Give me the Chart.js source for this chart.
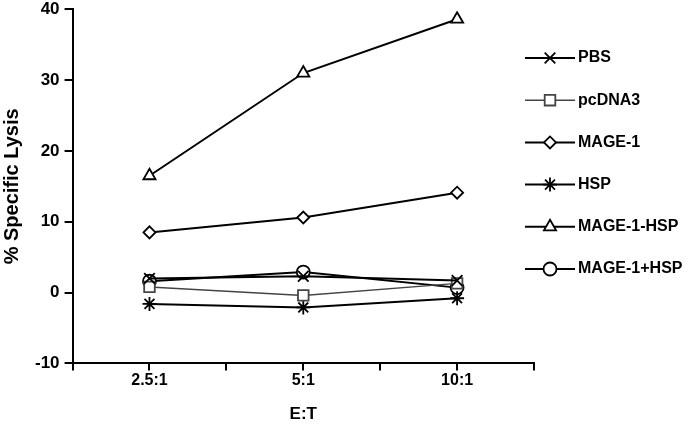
<!DOCTYPE html>
<html>
<head>
<meta charset="utf-8">
<script src="https://cdn.jsdelivr.net/npm/chart.js@4.4.0/dist/chart.umd.min.js"></script>
<style>
  html, body { margin: 0; padding: 0; background: #fff; }
  #wrap { width: 685px; height: 429px; }
</style>
</head>
<body>
<div id="wrap"><canvas id="lysisChart"></canvas></div>
<script>
// E:T ratios
const categories = ['2.5:1', '5:1', '10:1'];

// % specific lysis per group
const pbs        = [2.0, 2.3, 1.7];
const pcdna3     = [0.8, -0.4, 1.3];
const mage1      = [8.5, 10.6, 14.1];
const hsp        = [-1.6, -2.1, -0.8];
const mage1Hsp   = [16.5, 31.0, 38.6];
const mage1PlusHsp = [1.6, 2.9, 0.7];

const yTicks = [-10, 0, 10, 20, 30, 40];

const series = [
  { label: 'PBS',         data: pbs,          style: 'crossRot', r: 7.5, color: '#000' },
  { label: 'pcDNA3',      data: pcdna3,       style: 'rect',     r: 7.5, color: '#444' },
  { label: 'MAGE-1',      data: mage1,        style: 'rectRot',  r: 6,   color: '#000' },
  { label: 'HSP',         data: hsp,          style: 'star',     r: 7,   color: '#000' },
  { label: 'MAGE-1-HSP',  data: mage1Hsp,     style: 'triangle', r: 7,   color: '#000' },
  { label: 'MAGE-1+HSP',  data: mage1PlusHsp, style: 'circle',   r: 6.5, color: '#000' }
];

const font = "'Liberation Sans', Arial, sans-serif";

// legend drawn by hand: line + marker + label
const sideLegend = {
  id: 'sideLegend',
  afterDraw(chart) {
    const ctx = chart.ctx;
    const x0 = 525, x1 = 575, top = 58, gap = 42.2;
    ctx.save();
    chart.data.datasets.forEach((ds, i) => {
      const y = top + i * gap;
      ctx.strokeStyle = ds.borderColor;
      ctx.lineWidth = ds.borderWidth;
      ctx.beginPath();
      ctx.moveTo(x0, y);
      ctx.lineTo(x1, y);
      ctx.stroke();
      ctx.fillStyle = '#fff';
      ctx.strokeStyle = ds.pointBorderColor;
      ctx.lineWidth = ds.pointBorderWidth;
      Chart.helpers.drawPoint(ctx, {
        pointStyle: ds.pointStyle, radius: ds.pointRadius, rotation: 0, borderWidth: ds.pointBorderWidth
      }, (x0 + x1) / 2, y);
      ctx.fillStyle = '#000';
      ctx.font = 'bold 16px ' + font;
      ctx.textBaseline = 'middle';
      ctx.textAlign = 'left';
      ctx.fillText(ds.label, x1 + 3, y);
    });
    ctx.restore();
  }
};

new Chart(document.getElementById('lysisChart'), {
  type: 'line',
  data: {
    datasets: series.map(s => ({
      label: s.label,
      data: s.data.map((v, i) => ({ x: i, y: v })),
      borderColor: s.color,
      borderWidth: s.label === 'pcDNA3' ? 1.5 : 2,
      pointStyle: s.style,
      pointRadius: s.r,
      pointBackgroundColor: '#fff',
      pointBorderColor: s.color,
      pointBorderWidth: 1.8,
      tension: 0
    }))
  },
  options: {
    responsive: true,
    maintainAspectRatio: false,
    animation: false,
    layout: { padding: { top: 4, right: 151, bottom: 4, left: 0 } },
    plugins: { legend: { display: false }, tooltip: { enabled: false } },
    scales: {
      x: {
        type: 'linear',
        min: -0.5,
        max: 2.5,
        afterBuildTicks: axis => { axis.ticks = [-0.5, 0, 0.5, 1, 1.5, 2, 2.5].map(v => ({ value: v })); },
        ticks: {
          autoSkip: false,
          maxRotation: 0,
          padding: 1,
          color: '#000',
          font: { family: font, size: 16, weight: 'bold' },
          callback: v => Number.isInteger(v) ? categories[v] : ''
        },
        grid: { drawOnChartArea: false, drawTicks: true, tickLength: 7, color: '#000', lineWidth: 2 },
        border: { color: '#000', width: 2 },
        title: { display: true, text: 'E:T', color: '#000', padding: { top: 13, bottom: 0 },
                 font: { family: font, size: 17, weight: 'bold' } }
      },
      y: {
        min: -10,
        max: 40,
        afterBuildTicks: axis => { axis.ticks = yTicks.map(v => ({ value: v })); },
        ticks: {
          padding: 5,
          color: '#000',
          font: { family: font, size: 17, weight: 'bold', lineHeight: 0.5 }
        },
        grid: { drawOnChartArea: false, drawTicks: true, tickLength: 8, color: '#000', lineWidth: 2 },
        border: { color: '#000', width: 2 },
        title: { display: true, text: '% Specific Lysis', color: '#000', padding: { top: 0, bottom: 6 },
                 font: { family: font, size: 20, weight: 'bold' } }
      }
    }
  },
  plugins: [sideLegend]
});
</script>
</body>
</html>
